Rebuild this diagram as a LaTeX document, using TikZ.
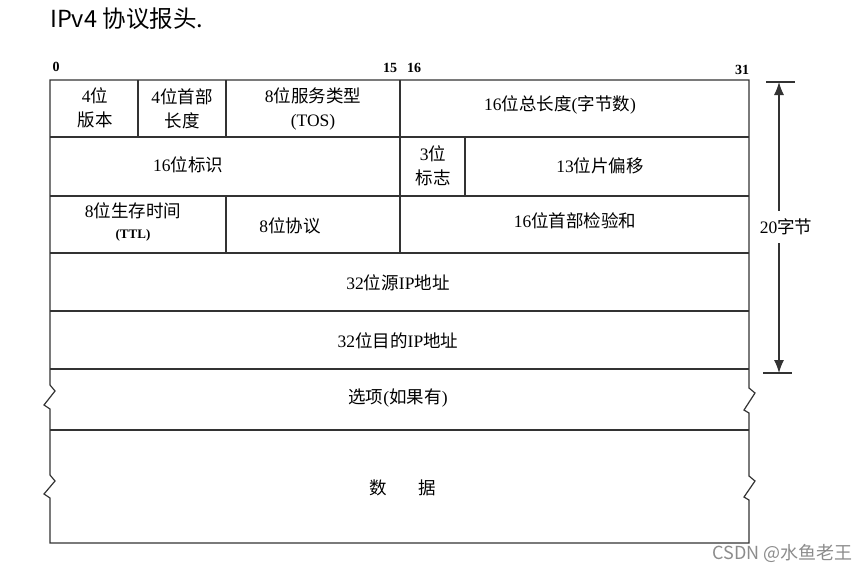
\documentclass[tikz,border=0pt]{standalone}
\usepackage{fontspec}
\setmainfont{Liberation Serif}
\newfontfamily\cjk{Noto Sans CJK SC}
\newcommand{\zh}[1]{{\cjk #1}}
\usetikzlibrary{arrows.meta}

\begin{document}
\begin{tikzpicture}[x=1pt,y=-1pt,
    cell/.style={font=\fontsize{17.5}{24}\selectfont, align=center, inner sep=0pt},
    bitnum/.style={font=\bfseries\fontsize{14}{14}\selectfont, inner sep=0pt},
    frame/.style={line width=1.2pt, draw=black!80}]
    \useasboundingbox (0,0) rectangle (868,571);
    \node[anchor=base west, font=\cjk\fontsize{23.5}{23.5}\selectfont, inner sep=0pt] (title) at (50,27) {IPv4 协议报头.};
    \node[bitnum] (b0) at (56,67) {0};
    \node[bitnum] (b15) at (390,68) {15};
    \node[bitnum] (b16) at (414,68) {16};
    \node[bitnum] (b31) at (742,70) {31};
    \draw[frame] (749,80) -- (50,80) -- (50,385) -- (55,391) -- (44,405) -- (50,409) -- (50,475) -- (55,481) -- (44,494) -- (50,498) -- (50,543) -- (749,543) -- (749,500) -- (744,497) -- (755,481) -- (749,476) -- (749,413) -- (744,410) -- (755,393) -- (749,388) -- cycle;
    \foreach \y in {137,196,253,311,369,430}
        \draw[frame] (50,\y) -- (749,\y);
    \draw[frame] (138,80) -- (138,137);
    \draw[frame] (226,80) -- (226,137);
    \draw[frame] (400,80) -- (400,253);
    \draw[frame] (465,137) -- (465,196);
    \draw[frame] (226,196) -- (226,253);
    \node[cell] (ver) at (95,108) {4\zh{位}\\\zh{版本}};
    \node[cell] (ihl) at (182,109) {4\zh{位首部}\\\zh{长度}};
    \node[cell] (tos) at (313,109) {8\zh{位服务类型}\\(TOS)};
    \node[cell] (len) at (560,105) {16\zh{位总长度}(\zh{字节数})};
    \node[cell] (ident) at (188,165) {16\zh{位标识}};
    \node[cell] (flags) at (433,166) {3\zh{位}\\\zh{标志}};
    \node[cell] (frag) at (600,166) {13\zh{位片偏移}};
    \node[cell, font=\fontsize{17.5}{21}\selectfont] (ttl) at (133,222) {8\zh{位生存时间}\\{\bfseries\fontsize{13}{13}\selectfont (TTL)}};
    \node[cell] (proto) at (290,226) {8\zh{位协议}};
    \node[cell] (csum) at (575,221) {16\zh{位首部检验和}};
    \node[cell] (src) at (398,283) {32\zh{位源}IP\zh{地址}};
    \node[cell] (dst) at (398,341) {32\zh{位目的}IP\zh{地址}};
    \node[cell] (opt) at (398,398) {\zh{选项}(\zh{如果有})};
    \node[cell] (data) at (403,488) {\zh{数}\hspace{32pt}\zh{据}};
    \coordinate (top) at (779,82);
    \coordinate (bot) at (779,373);
    \draw[frame] (766,82) -- (795,82);
    \draw[frame] (763,373) -- (792,373);
    \node[cell, inner ysep=8pt] (bytes) at (786,227) {20\zh{字节}};
    \draw[frame, -{Latex[length=13pt,width=10pt]}] (bytes.north -| top) -- (top);
    \draw[frame, -{Latex[length=13pt,width=10pt]}] (bytes.south -| bot) -- (bot);
    \node[anchor=base east, font=\cjk\fontsize{18}{18}\selectfont, text=black!45, inner sep=0pt] (mark) at (853,559) {CSDN @水鱼老王};
\end{tikzpicture}
\end{document}
